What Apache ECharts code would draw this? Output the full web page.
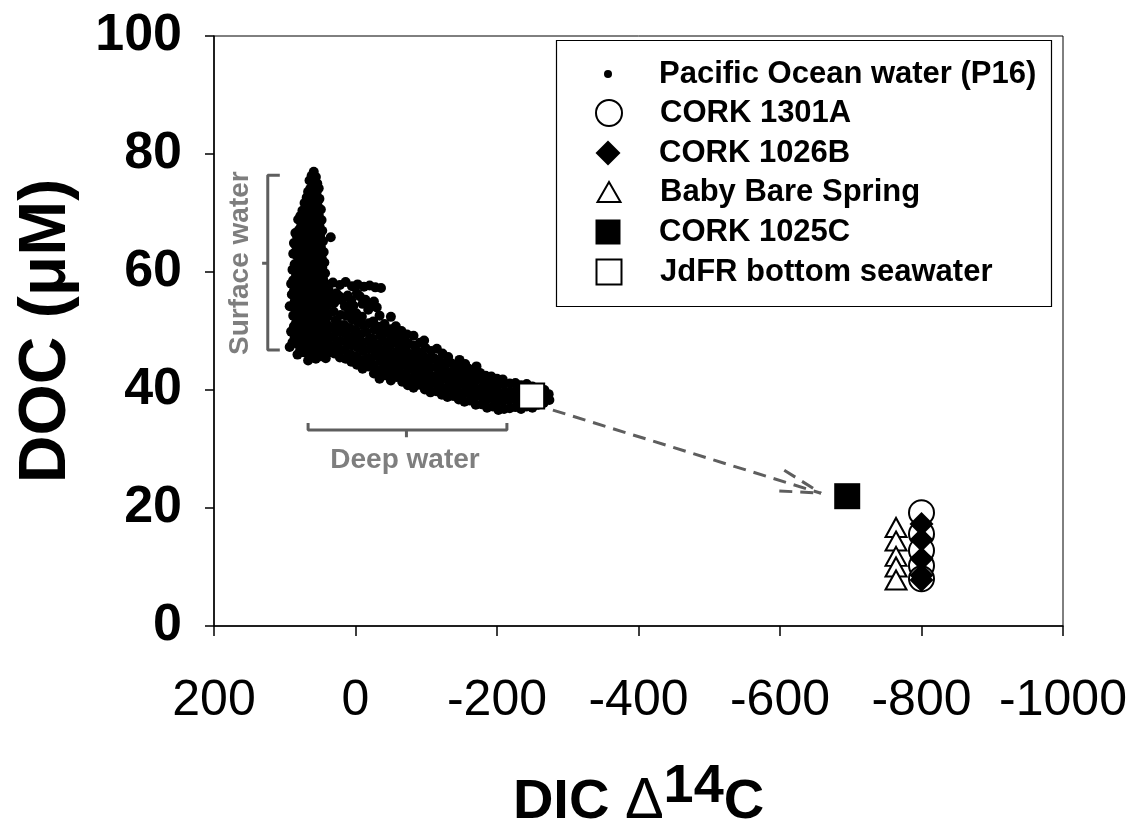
<!DOCTYPE html>
<html><head><meta charset="utf-8">
<script src="https://cdn.jsdelivr.net/npm/echarts@6/dist/echarts.min.js"></script>
<style>html,body{margin:0;padding:0;background:#fff;}#c{width:1129px;height:823px;}</style>
</head><body><div id="c"></div>
<script>
// ---- tick labels ----
const xTicks = [200, 0, -200, -400, -600, -800, -1000];
const yTicks = [0, 20, 40, 60, 80, 100];

// ---- series names ----
const seriesNames = ['Pacific Ocean water (P16)', 'CORK 1301A', 'CORK 1026B', 'Baby Bare Spring', 'CORK 1025C', 'JdFR bottom seawater'];

// ---- Pacific Ocean water (P16): [DIC Δ14C, DOC µM] ----
const pacificSurface = [
[59,77.0],[56,76.1],[62,76.3],[54,75.0],[60,75.3],[65,75.5],[52,74.2],[58,74.4],[64,74.1],
[55,73.5],[61,73.2],[67,73.6],[51,72.4],[57,72.7],[63,72.3],[69,72.6],[54,71.5],[60,71.8],[66,71.4],[72,71.7],
[49,70.6],[56,70.9],[62,70.5],[68,70.8],[75,70.4],[52,69.7],[58,70.0],[65,69.6],[71,69.9],[78,69.5],
[48,68.8],[55,69.1],[61,68.7],[67,69.0],[74,68.6],[81,68.9],[51,67.9],[58,68.2],[64,67.8],[70,68.1],[77,67.7],
[47,67.0],[54,67.3],[60,66.9],[67,67.2],[73,66.8],[80,67.1],[85,66.6],[50,66.1],[57,66.4],[63,66.0],[70,66.3],[77,65.9],[83,66.2],
[35,65.9],[46,65.2],[53,65.5],[60,65.1],[66,65.4],[73,65.0],[80,65.3],[87,64.9],[49,64.3],[56,64.6],[63,64.2],[70,64.5],[76,64.1],[84,64.4],
[45,63.4],[52,63.7],[59,63.3],[66,63.6],[72,63.2],[79,63.5],[88,63.1],[48,62.5],[55,62.8],[62,62.4],[69,62.7],[75,62.3],[82,62.6],
[44,61.6],[51,61.9],[58,61.5],[65,61.8],[71,61.4],[78,61.7],[86,61.3],[47,60.7],[54,61.0],[61,60.6],[68,60.9],[74,60.5],[81,60.8],[89,60.4],
[43,59.8],[50,60.1],[57,59.7],[64,60.0],[71,59.6],[77,59.9],[84,59.5],[46,58.9],[53,59.2],[60,58.8],[67,59.1],[74,58.7],[80,59.0],[88,58.6],
[42,58.0],[49,58.3],[56,57.9],[63,58.2],[70,57.8],[77,58.1],[84,57.7],[91,58.0],[45,57.1],[52,57.4],[59,57.0],[66,57.3],[73,56.9],[80,57.2],[87,56.8],
[41,56.2],[48,56.5],[55,56.1],[62,56.4],[69,56.0],[76,56.3],[83,55.9],[90,56.2],[44,55.3],[51,55.6],[58,55.2],[65,55.5],[72,55.1],[79,55.4],[86,55.0],
[40,54.4],[47,54.7],[54,54.3],[61,54.6],[68,54.2],[75,54.5],[82,54.1],[93,54.2],[43,53.5],[50,53.8],[57,53.4],[64,53.7],[71,53.3],[78,53.6],[85,53.2],
[39,52.6],[46,52.9],[53,52.5],[60,52.8],[67,52.4],[74,52.7],[81,52.3],[88,52.6],[42,51.7],[49,52.0],[56,51.6],[63,51.9],[70,51.5],[77,51.8],[84,51.4],
[38,50.8],[45,51.1],[52,50.7],[59,51.0],[66,50.6],[73,50.9],[80,50.5],[87,50.8],[41,49.9],[48,50.2],[55,49.8],[62,50.1],[69,49.7],[76,50.0],[83,49.6],[91,49.9],
[37,49.0],[44,49.3],[51,48.9],[58,49.2],[65,48.8],[72,49.1],[79,48.7],[86,49.0],[40,48.1],[47,48.4],[54,48.0],[61,48.3],[68,47.9],[75,48.2],[82,47.8],[89,48.1],
[36,47.2],[43,47.5],[50,47.1],[57,47.4],[64,47.0],[71,47.3],[78,46.9],[93,47.3],[39,46.3],[46,46.6],[53,46.2],[60,46.5],[67,46.1],[74,46.4],[82,46.0],
[42,45.4],[49,45.7],[56,45.3],[63,45.6],[67,45.0],
[34,55.6],[27,56.4],[19,55.2],[11,56.0],[38,57.0],[3,54.3],[-6,55.9],[-14,55.3],[-22,54.2],[-30,54.0]
];
const pacificDeep = [
[30,46.2],[29,47.6],[31,49.0],[30,50.4],[28,51.8],[31,53.3],[30,54.8],[32,58.2],
[22,45.5],[23,47.0],[21,48.3],[22,49.8],[24,51.2],[21,52.7],[23,55.9],[22,57.8],
[14,45.3],[15,46.8],[13,48.2],[14,49.6],[16,51.0],[13,52.6],[15,54.2],[14,58.3],
[6,44.8],[7,46.1],[5,47.6],[6,49.0],[8,50.5],[5,52.0],[7,53.4],[6,55.2],[5,57.6],
[-2,44.3],[-1,45.7],[-3,47.2],[-2,48.6],[0,50.1],[-3,51.5],[-1,53.0],[-2,56.4],[-3,57.9],
[-10,43.6],[-9,45.1],[-11,46.6],[-10,48.0],[-8,49.5],[-11,51.0],[-9,52.4],[-10,54.6],[-12,57.5],
[-18,44.0],[-17,45.4],[-19,46.9],[-18,48.3],[-16,49.8],[-19,51.3],[-18,53.6],[-20,57.7],
[-26,42.8],[-25,44.3],[-27,45.8],[-26,47.2],[-24,48.7],[-27,50.2],[-25,51.6],[-26,55.0],[-28,57.4],
[-34,41.9],[-33,43.4],[-35,44.9],[-34,46.3],[-32,47.8],[-35,49.3],[-33,50.7],[-34,52.6],[-36,57.3],
[-42,42.5],[-41,44.0],[-43,45.4],[-42,46.9],[-40,48.3],[-43,49.8],[-41,51.2],
[-50,41.6],[-49,43.1],[-51,44.6],[-50,46.0],[-48,47.5],[-51,48.9],[-49,50.3],[-50,52.4],
[-58,42.2],[-57,43.6],[-59,45.1],[-58,46.5],[-56,48.0],[-59,49.4],[-57,50.8],
[-66,41.4],[-65,42.8],[-67,44.3],[-66,45.7],[-64,47.2],[-67,48.6],[-65,50.0],
[-74,40.8],[-73,42.2],[-75,43.6],[-74,45.0],[-72,46.5],[-75,47.9],[-73,49.4],
[-82,40.4],[-81,41.8],[-83,43.2],[-82,44.6],[-80,46.0],[-83,47.5],[-82,49.2],
[-90,40.9],[-89,42.3],[-91,43.7],[-90,45.1],[-88,46.5],[-91,48.0],
[-98,40.1],[-97,41.5],[-99,42.9],[-98,44.3],[-96,45.7],[-99,47.1],[-97,48.4],
[-106,39.6],[-105,41.0],[-107,42.4],[-106,43.8],[-104,45.2],[-107,46.6],
[-114,39.8],[-113,41.1],[-115,42.5],[-114,43.9],[-112,45.3],[-115,47.0],
[-122,39.2],[-121,40.6],[-123,42.0],[-122,43.4],[-120,44.8],[-123,46.2],
[-130,38.8],[-129,40.2],[-131,41.6],[-130,43.0],[-128,44.4],[-131,45.6],
[-138,39.0],[-137,40.4],[-139,41.8],[-138,43.1],[-136,44.5],
[-146,38.4],[-145,39.8],[-147,41.1],[-146,42.5],[-144,43.9],[-147,45.1],
[-154,38.0],[-153,39.4],[-155,40.8],[-154,42.1],[-152,43.5],[-155,44.4],
[-162,38.2],[-161,39.5],[-163,40.9],[-162,42.3],[-160,43.6],
[-170,37.5],[-169,38.9],[-171,40.2],[-170,41.6],[-168,43.0],[-171,44.0],
[-178,37.6],[-177,39.0],[-179,40.4],[-178,41.8],[-176,42.9],
[-186,37.0],[-185,38.4],[-187,39.8],[-186,41.1],[-184,42.4],
[-194,37.2],[-193,38.6],[-195,40.0],[-194,41.3],[-192,42.3],
[-202,36.6],[-201,38.0],[-203,39.4],[-202,40.8],[-200,41.9],
[-210,36.8],[-209,38.2],[-211,39.6],[-210,41.0],[-208,41.8],
[-218,36.9],[-217,38.3],[-219,39.7],[-218,41.1],
[-226,37.1],[-225,38.5],[-227,39.9],[-226,41.2],
[-234,36.8],[-233,38.1],[-235,39.5],[-234,40.8],
[-242,37.2],[-241,38.6],[-243,40.0],[-242,41.0],
[-250,37.0],[-249,38.3],[-251,39.7],[-250,40.6],
[-258,37.5],[-257,38.8],[-259,40.1],
[-266,37.8],[-265,39.0],[-267,40.0],
[-274,38.3],[-273,39.3]
];
const cork1301A = [[-800,19.2],[-800,15.6],[-800,12.8],[-800,10.2],[-800,8.0]];
const cork1026B = [[-800,17.3],[-800,14.6],[-800,11.4],[-800,8.6],[-800,7.8]];
const babyBare  = [[-764,16.7],[-764,14.4],[-764,11.8],[-764,10.0],[-764,7.8]];
const cork1025C = [[-695,22.0]];
const jdfrBottom = [[-249,39.0]];

// ---- annotations (data coordinates) ----
const arrowShaft = [[-279,36.6],[-658,22.5]];
const arrowBarbUp = [[-606,26.4],[-658,22.5]];
const arrowBarbLow = [[-599,22.9],[-658,22.5]];
const surfaceBracket = [[107,76.4],[124,76.4],[124,46.8],[107,46.8]];
const surfaceNotch = [[124,61.5],[132,61.5]];
const deepBracket = [[67,34.4],[67,33.2],[-214,33.2],[-214,34.4]];
const deepNotch = [[-72,33.2],[-72,32.0]];
const surfaceLabel = [[163,61.5]];
const deepLabel = [[-70,28.1]];

const FONT = '"Liberation Sans", Arial, Helvetica, sans-serif';
const GRAY = '#5e5e5e';

const chart = echarts.init(document.getElementById('c'), null, {renderer: 'canvas'});

function annLine(data) {
  return {type: 'line', data: data, symbol: 'none', silent: true, z: 3,
    lineStyle: {color: GRAY, width: 3}, animation: false};
}
function annDash(data) {
  return {type: 'line', data: data, symbol: 'none', silent: true, z: 3,
    lineStyle: {color: GRAY, width: 3, type: [13, 8]}, animation: false};
}
function annLabel(data, text, rotate) {
  return {type: 'scatter', data: data, symbolSize: 1, silent: true, z: 3,
    itemStyle: {color: 'rgba(0,0,0,0)'},
    label: {show: true, position: 'inside', formatter: text, rotate: rotate,
      fontFamily: FONT, fontSize: 28, fontWeight: 'bold', color: GRAY}, animation: false};
}
const LEG_TEXT_H = 31;
function legendOne(name, cx, cy, w, h) {
  return {data: [name], orient: 'vertical', left: cx - w / 2, top: cy - Math.max(h, LEG_TEXT_H) / 2, padding: 0,
    itemWidth: w, itemHeight: h, selectedMode: false,
    textStyle: {fontFamily: FONT, fontSize: 31, fontWeight: 'bold', color: '#000', padding: [0, 0, 0, 46 - w / 2]}};
}

const openStyle = {color: '#000', borderColor: '#000', borderWidth: 2, opacity: 1};
const solidStyle = {color: '#000', opacity: 1};

chart.setOption({
  animation: false,
  backgroundColor: '#fff',
  grid: {left: 214, right: 66, top: 36, bottom: 197, show: true, borderColor: '#000', borderWidth: 1,
    containLabel: false, outerBoundsMode: 'none'},
  xAxis: {
    type: 'value', inverse: true,
    min: Math.min(...xTicks), max: Math.max(...xTicks), interval: 200,
    axisLine: {onZero: false, lineStyle: {color: '#000', width: 1.5}},
    axisTick: {length: 10, lineStyle: {color: '#000', width: 1.5}},
    splitLine: {show: false},
    axisLabel: {fontFamily: FONT, fontSize: 50, color: '#000', margin: 50, formatter: v => String(v)},
    name: '{a|DIC }{d|Δ}{s|14}{a|C}', nameLocation: 'middle', nameGap: 134,
    nameTextStyle: {rich: {
      a: {fontFamily: FONT, fontSize: 56, fontWeight: 'bold', color: '#000', verticalAlign: 'bottom'},
      d: {fontFamily: FONT, fontSize: 58, color: '#000', verticalAlign: 'bottom'},
      s: {fontFamily: FONT, fontSize: 54, fontWeight: 'bold', color: '#000', verticalAlign: 'bottom', padding: [0, 0, 17, 0]}
    }}
  },
  yAxis: {
    type: 'value',
    min: Math.min(...yTicks), max: Math.max(...yTicks), interval: 20,
    axisLine: {onZero: false, lineStyle: {color: '#000', width: 1.5}},
    axisTick: {length: 9, lineStyle: {color: '#000', width: 1.5}},
    splitLine: {show: false},
    axisLabel: {fontFamily: FONT, fontSize: 52, fontWeight: 'bold', color: '#000', margin: 32},
    name: 'DOC (μM)', nameLocation: 'middle', nameRotate: 90, nameGap: 134,
    nameTextStyle: {fontFamily: FONT, fontSize: 66, fontWeight: 'bold', color: '#000'}
  },
  legend: [
    legendOne(seriesNames[0], 608, 74, 8, 8),
    legendOne(seriesNames[1], 608, 113, 26, 26),
    legendOne(seriesNames[2], 608, 153, 25, 25),
    legendOne(seriesNames[3], 608, 192, 23, 20),
    legendOne(seriesNames[4], 608, 232, 25, 25),
    legendOne(seriesNames[5], 608, 272, 25, 25)
  ],
  graphic: [{type: 'rect', shape: {x: 556.5, y: 40.5, width: 495, height: 266}, z: 0,
    style: {fill: 'transparent', stroke: '#000', lineWidth: 1.2}, silent: true}],
  series: [
    {name: seriesNames[0], type: 'scatter', data: pacificSurface.concat(pacificDeep), symbol: 'circle', symbolSize: 10,
      itemStyle: solidStyle, z: 2},
    annDash(arrowShaft), annDash(arrowBarbUp), annDash(arrowBarbLow),
    annLine(surfaceBracket), annLine(surfaceNotch), annLine(deepBracket), annLine(deepNotch),
    annLabel(surfaceLabel, 'Surface water', 90), annLabel(deepLabel, 'Deep water', 0),
    {name: seriesNames[3], type: 'scatter', data: babyBare, symbol: 'emptyTriangle', symbolSize: [21, 19], itemStyle: openStyle, z: 4},
    {name: seriesNames[1], type: 'scatter', data: cork1301A, symbol: 'emptyCircle', symbolSize: 25, itemStyle: openStyle, z: 4},
    {name: seriesNames[2], type: 'scatter', data: cork1026B, symbol: 'diamond', symbolSize: 24, itemStyle: solidStyle, z: 4},
    {name: seriesNames[4], type: 'scatter', data: cork1025C, symbol: 'rect', symbolSize: 26, itemStyle: solidStyle, z: 4},
    {name: seriesNames[5], type: 'scatter', data: jdfrBottom, symbol: 'emptyRect', symbolSize: 25, itemStyle: openStyle, z: 4}
  ]
});
</script>
</body></html>
